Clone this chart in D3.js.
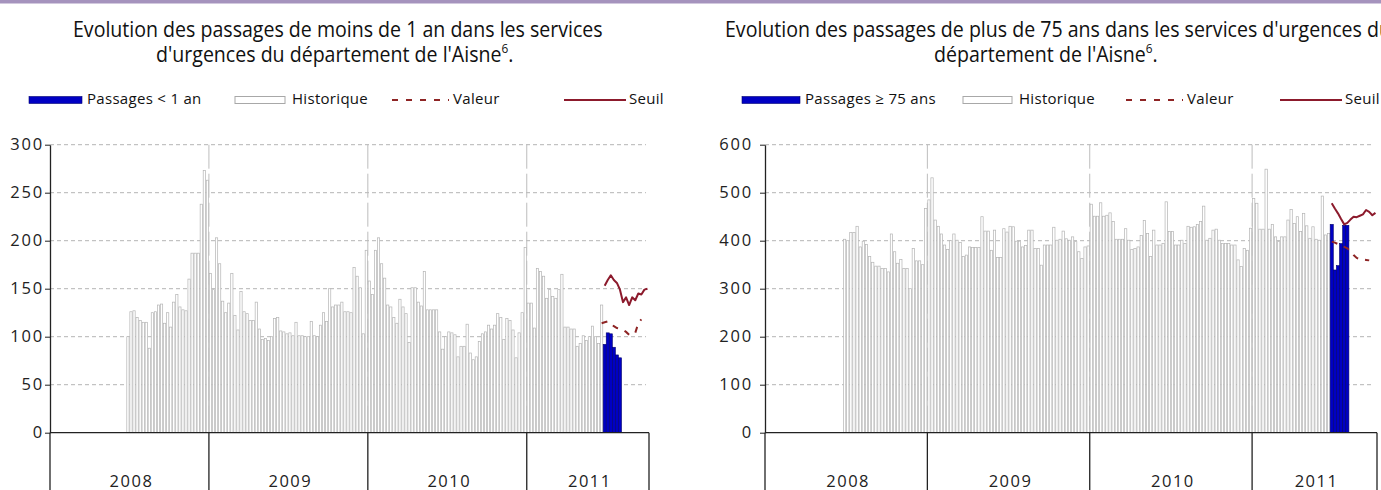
<!DOCTYPE html>
<html>
<head>
<meta charset="utf-8">
<script src="https://cdn.jsdelivr.net/npm/d3@7"></script>
<style>
  body { margin: 0; background: #fff; overflow: hidden; }
  svg { display: block; font-family: "Open Sans", "DejaVu Sans", sans-serif; }
</style>
</head>
<body>
<svg id="chart" width="1381" height="490"></svg>
<script>
// ---- data ----
const years = ["2008", "2009", "2010", "2011"];
const weeksPerYear = [52, 52, 52, 40];

const histStartWeek = "2008-S26";
const currStartWeek = "2011-S26";
const valeurStartMoins1 = "2011-S25";
const valeurStartPlus75 = "2011-S26";

// moins de 1 an
const ticksMoins1 = [0, 50, 100, 150, 200, 250, 300];
const histMoins1 = [
  100, 126, 127, 120, 117, 115, 115, 88, 125, 126, 133, 134, 114, 125, 110, 136, 144, 131, 128, 127,
  160, 187, 187, 187, 238, 273, 263,
  166, 149, 203, 176, 137, 125, 135, 166, 122, 107, 147, 126, 124, 117, 117, 136, 108, 97, 98, 96,
  100, 119, 120, 106, 105, 103, 104, 101, 115, 101, 101, 100, 100, 116, 101, 100, 112, 125, 116, 150,
  131, 133, 133, 136,
  126, 126, 125, 172, 163, 151, 103, 190, 158, 144, 190, 203, 176, 161, 133, 131, 120, 114, 139, 131,
  124, 94, 151, 151, 136, 132, 168, 128, 128, 128, 128, 105, 87, 100, 105, 104, 102, 79, 90, 90,
  113, 83, 76, 79, 95, 103, 105, 112, 108, 112, 124, 120, 97, 119, 117, 107, 78, 104, 125,
  193, 135, 135, 109, 171, 168, 163, 140, 149, 142, 140, 149, 165, 110, 110, 108, 108, 90, 93, 101,
  96, 100, 111, 100, 93, 133
];
const passMoins1 = [92, 104, 103, 89, 81, 78];
const seuilMoins1 = [153, 159, 164, 159, 156, 149, 136, 141, 133, 141, 138, 145, 144, 149, 150];
const valeurMoins1 = [114, 115, 116, 113, 111, 109, 108, 107, 105, 102, 102, 104, 114, 118];

// plus de 75 ans
const ticksPlus75 = [0, 100, 200, 300, 400, 500, 600];
const histPlus75 = [
  403, 400, 417, 417, 430, 387, 399, 392, 367, 355, 347, 347, 342, 342, 335, 414, 377, 353, 361, 342,
  342, 300, 384, 358, 358, 350, 467, 485, 531, 443, 430, 414, 391, 382, 400, 414, 401, 396, 367, 370,
  387, 386, 386, 386, 450, 420, 420, 380, 422, 365, 365, 425, 418, 430, 429, 399, 399, 387, 390, 422,
  422, 384, 384, 349, 391, 391, 391, 428, 401, 403, 420, 404, 401, 408, 398, 377, 363, 387, 389, 476,
  451, 451, 479, 451, 453, 458, 440, 403, 403, 403, 425, 401, 382, 384, 387, 411, 442, 415, 367, 422,
  391, 391, 394, 481, 419, 419, 391, 391, 401, 394, 430, 428, 429, 434, 440, 472, 401, 405, 422, 424,
  401, 394, 394, 394, 391, 391, 360, 346, 384, 380, 426, 488, 478, 424, 424, 549, 424, 434, 408, 398,
  408, 408, 443, 465, 436, 450, 419, 457, 431, 405, 429, 403, 401, 493, 412, 415
];
const passPlus75 = [434, 339, 348, 394, 432, 432];
const seuilPlus75 = [478, 467, 457, 445, 434, 437, 444, 450, 449, 452, 455, 464, 460, 453, 458];
const valeurPlus75 = [398, 396, 393, 390, 387, 384, 378, 370, 364, 362, 361, 360, 359];

// ---- drawing ----
const W = 1381, H = 490;
const blue = "#0000c4", seuilColor = "#8c1a2c", valeurColor = "#8e2424";
const titleSqueeze = 0.91; // titles are drawn in a narrow face
const svg = d3.select("#chart");

svg.append("rect").attr("x", 0).attr("y", 0).attr("width", W).attr("height", 3.5).attr("fill", "#a593bd");

const weeks = years.flatMap((yr, k) =>
  d3.range(1, weeksPerYear[k] + 1).map((w) => `${yr}-S${String(w).padStart(2, "0")}`)
);

function toPoints(values, startWeek) {
  const s = weeks.indexOf(startWeek);
  return values.map((v, i) => ({ week: weeks[s + i], v }));
}

function squeeze(sel) {
  const n = sel.node();
  sel.attr("textLength", n.getComputedTextLength() * titleSqueeze)
    .attr("lengthAdjust", "spacingAndGlyphs");
}

function drawPanel(cfg) {
  const { left, right, top, zero, yMax, ticks } = cfg;

  const x = d3.scaleBand().domain(weeks).range([left, right]);
  const y = d3.scaleLinear().domain([0, yMax]).range([zero, top]);
  const bw = x.bandwidth();
  const g = svg.append("g");

  // title
  g.append("text").attr("font-size", 21.5).attr("fill", "#111")
    .attr("x", cfg.title1X).attr("y", 37).text(cfg.title1).call(squeeze);
  const t2 = g.append("text").attr("font-size", 21.5).attr("fill", "#111")
    .attr("x", cfg.title2X).attr("y", 62);
  t2.append("tspan").text(cfg.title2);
  t2.append("tspan").attr("font-size", 13).attr("dy", -9).text("6");
  t2.append("tspan").attr("dy", 9).text(".");
  t2.call(squeeze);

  // legend
  const lg = g.append("g").attr("font-size", 15).attr("letter-spacing", 0.3).attr("fill", "#111");
  const L = cfg.legend;
  lg.append("rect").attr("x", L[0]).attr("y", 96.5).attr("width", L[1] - L[0]).attr("height", 7)
    .attr("fill", blue).attr("stroke", "#000070").attr("stroke-width", 0.6);
  lg.append("text").attr("x", L[1] + 5).attr("y", 104).text(cfg.legendPass);
  lg.append("rect").attr("x", L[2]).attr("y", 96.5).attr("width", L[3] - L[2]).attr("height", 7)
    .attr("fill", "#fff").attr("stroke", "#a8a8a8").attr("stroke-width", 1);
  lg.append("text").attr("x", L[3] + 7).attr("y", 104).text("Historique");
  lg.append("line").attr("x1", L[4]).attr("x2", L[5]).attr("y1", 100).attr("y2", 100)
    .attr("stroke", valeurColor).attr("stroke-width", 2).attr("stroke-dasharray", "6,8");
  lg.append("text").attr("x", L[5] + 4).attr("y", 104).text("Valeur");
  lg.append("line").attr("x1", L[6]).attr("x2", L[7]).attr("y1", 100).attr("y2", 100)
    .attr("stroke", seuilColor).attr("stroke-width", 2);
  lg.append("text").attr("x", L[7] + 3).attr("y", 104).text("Seuil");

  // horizontal grid
  g.append("g").selectAll("line").data(ticks.filter((d) => d > 0)).join("line")
    .attr("x1", left).attr("x2", right - 3)
    .attr("y1", (d) => y(d)).attr("y2", (d) => y(d))
    .attr("stroke", "#b4b4b4").attr("stroke-dasharray", "4,3");

  // year boundaries
  const bounds = years.map((yr) => x(`${yr}-S01`)).concat([right]);
  g.append("g").selectAll("line").data(bounds.slice(1, -1)).join("line")
    .attr("x1", (d) => d).attr("x2", (d) => d).attr("y1", top).attr("y2", zero)
    .attr("stroke", "#bdbdbd").attr("stroke-dasharray", "24,5");

  // historique
  g.append("g").selectAll("rect").data(toPoints(cfg.hist, histStartWeek)).join("rect")
    .attr("x", (d) => x(d.week) + 0.4).attr("width", bw - 0.8)
    .attr("y", (d) => y(d.v)).attr("height", (d) => zero - y(d.v))
    .attr("fill", "#fff").attr("stroke", "#b4b4b4").attr("stroke-width", 0.7);

  // passages
  g.append("g").selectAll("rect").data(toPoints(cfg.pass, currStartWeek)).join("rect")
    .attr("x", (d) => x(d.week)).attr("width", bw)
    .attr("y", (d) => y(d.v)).attr("height", (d) => zero - y(d.v))
    .attr("fill", blue).attr("stroke", "#00006a").attr("stroke-width", 0.6);

  const line = d3.line().x((d) => x(d.week) + bw / 2).y((d) => y(d.v));

  g.append("path").datum(toPoints(cfg.valeur, cfg.valeurStart))
    .attr("d", line).attr("fill", "none").attr("stroke", valeurColor)
    .attr("stroke-width", 2).attr("stroke-dasharray", "6,7");

  g.append("path").datum(toPoints(cfg.seuil, currStartWeek))
    .attr("d", line).attr("fill", "none").attr("stroke", seuilColor)
    .attr("stroke-width", 2).attr("stroke-linejoin", "round");

  // y axis
  g.append("g").attr("transform", `translate(${left},0)`)
    .call(d3.axisLeft(y).tickValues(ticks).tickSize(5).tickSizeOuter(0).tickPadding(cfg.tickPad))
    .attr("font-family", null).attr("font-size", 16.5).attr("letter-spacing", 1.8)
    .call((a) => a.select(".domain").attr("stroke", "#222").attr("stroke-width", 1.3))
    .call((a) => a.selectAll(".tick line").attr("stroke", "#222"))
    .call((a) => a.selectAll(".tick text").attr("fill", "#222"));

  // x axis box
  g.append("line").attr("x1", left).attr("x2", right).attr("y1", zero).attr("y2", zero)
    .attr("stroke", "#222").attr("stroke-width", 1.3);
  g.append("g").selectAll("line").data(bounds).join("line")
    .attr("x1", (d) => d).attr("x2", (d) => d).attr("y1", zero).attr("y2", H)
    .attr("stroke", "#222").attr("stroke-width", 1.3);
  g.append("g").selectAll("text").data(years).join("text")
    .attr("x", (d, i) => (bounds[i] + bounds[i + 1]) / 2 + 2).attr("y", 486.5)
    .attr("text-anchor", "middle").attr("font-size", 16.5).attr("letter-spacing", 1.5).attr("fill", "#222")
    .text((d) => d);
}

drawPanel({
  left: 50, right: 649, top: 144.7, zero: 432.7, yMax: 300, ticks: ticksMoins1, tickPad: 1,
  hist: histMoins1, pass: passMoins1, seuil: seuilMoins1, valeur: valeurMoins1,
  valeurStart: valeurStartMoins1,
  title1: "Evolution des passages de moins de 1 an dans les services", title1X: 73,
  title2: "d'urgences du département de l'Aisne", title2X: 156,
  legend: [29, 82, 235, 285, 392, 449, 564, 626],
  legendPass: "Passages < 1 an"
});

drawPanel({
  left: 765, right: 1377, top: 144.7, zero: 432.7, yMax: 600, ticks: ticksPlus75, tickPad: 7,
  hist: histPlus75, pass: passPlus75, seuil: seuilPlus75, valeur: valeurPlus75,
  valeurStart: valeurStartPlus75,
  title1: "Evolution des passages de plus de 75 ans dans les services d'urgences du", title1X: 725,
  title2: "département de l'Aisne", title2X: 934,
  legend: [742, 800, 963, 1012, 1126, 1183, 1280, 1342],
  legendPass: "Passages \u2265 75 ans"
});
</script>
</body>
</html>
